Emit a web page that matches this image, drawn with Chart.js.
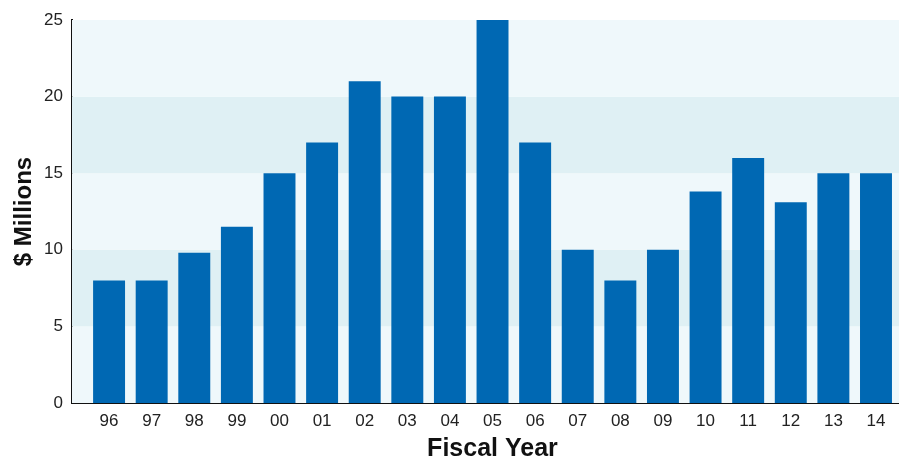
<!DOCTYPE html>
<html>
<head>
<meta charset="utf-8">
<script src="https://cdn.jsdelivr.net/npm/chart.js@4/dist/chart.umd.min.js"></script>
<style>
  html, body { margin: 0; padding: 0; background: #fff; }
  #wrap { width: 899px; height: 457px; }
</style>
</head>
<body>
<div id="wrap"><canvas id="myChart"></canvas></div>
<script>
const years = ["96", "97", "98", "99", "00", "01", "02", "03", "04", "05", "06", "07", "08", "09", "10", "11", "12", "13", "14"];
const millions = [8, 8, 9.8, 11.5, 15, 17, 21, 20, 20, 25, 17, 10, 8, 10, 13.8, 16, 13.1, 15, 15];
const bandEdges = [0, 5, 10, 15, 20, 25];
const bandColors = ["#eff8fb", "#dff0f4", "#eff8fb", "#dff0f4", "#eff8fb"];

// striped background behind the bars
const bands = {
  id: "bands",
  beforeDatasetsDraw: (chart) => {
    const { ctx, chartArea, scales } = chart;
    ctx.save();
    for (let i = 0; i < bandColors.length; i++) {
      const top = scales.y.getPixelForValue(bandEdges[i + 1]);
      const bottom = scales.y.getPixelForValue(bandEdges[i]);
      ctx.fillStyle = bandColors[i];
      ctx.fillRect(chartArea.left, top, chartArea.right - chartArea.left, bottom - top);
    }
    ctx.restore();
  },
};

const ctx = document.getElementById("myChart").getContext("2d");
const myChart = new Chart(ctx, {
  type: "bar",
  data: {
    datasets: [
      {
        data: millions.map((v, i) => ({ x: i, y: v })),
        backgroundColor: "#0068b3",
        barPercentage: 0.75,
        categoryPercentage: 1,
      },
    ],
  },
  options: {
    responsive: true,
    maintainAspectRatio: false,
    animation: false,
    layout: { padding: { top: 20, right: 0, left: 0, bottom: 0 } },
    plugins: {
      legend: { display: false },
      tooltip: { enabled: false },
    },
    scales: {
      x: {
        type: "linear",
        offset: false,
        min: -0.87,
        max: 18.54,
        grid: { display: false, drawTicks: false },
        border: { display: true, color: "#111", width: 2 },
        afterBuildTicks: (scale) => {
          scale.ticks = years.map((_, i) => ({ value: i }));
        },
        afterFit: (scale) => {
          scale.height = 54;
        },
        ticks: {
          autoSkip: false,
          maxRotation: 0,
          padding: 8,
          color: "#222",
          font: { family: "Liberation Sans, Arial, sans-serif", size: 17 },
          callback: (v) => years[v] ?? "",
        },
        title: {
          display: true,
          text: "  Fiscal Year",
          color: "#111",
          padding: { top: 6, bottom: -7 },
          font: { family: "Liberation Sans, Arial, sans-serif", size: 25, weight: "bold" },
        },
      },
      y: {
        min: 0,
        max: 25,
        grid: { display: false, drawTicks: false },
        border: { display: true, color: "#111", width: 2 },
        afterFit: (scale) => {
          scale.width = 72;
        },
        ticks: {
          stepSize: 5,
          padding: 9,
          color: "#222",
          font: { family: "Liberation Sans, Arial, sans-serif", size: 17 },
        },
        title: {
          display: true,
          text: "$ Millions",
          color: "#111",
          padding: { top: 10, bottom: 0 },
          font: { family: "Liberation Sans, Arial, sans-serif", size: 24, weight: "bold" },
        },
      },
    },
  },
  plugins: [bands],
});
</script>
</body>
</html>
